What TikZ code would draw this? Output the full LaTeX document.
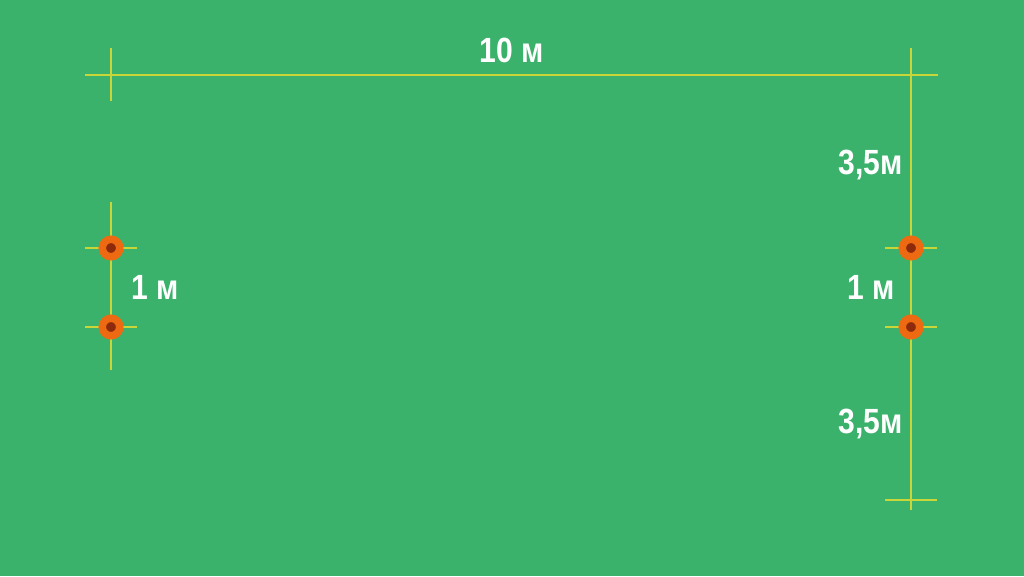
\documentclass[tikz,border=0pt]{standalone}
\usepackage{fontspec}
\setmainfont{Liberation Sans}
\usepackage{tikz}
\usetikzlibrary{positioning,calc}
\definecolor{lawn}{HTML}{3AB26B}
\definecolor{markline}{HTML}{C9D63A}
\definecolor{pegring}{HTML}{EE6A12}
\definecolor{pegcore}{HTML}{8E2A0C}
\tikzstyle{dim} = [draw=markline, line width=1.5pt]
\tikzstyle{peg} = [circle, fill=pegcore, draw=pegring, line width=7.5pt, minimum size=17.5pt, inner sep=0pt]
\tikzstyle{lbl} = [text=white, inner sep=0pt, xscale=0.86, font=\bfseries\fontsize{35}{35}\selectfont]

\begin{document}
\begin{tikzpicture}[x=1pt, y=-1pt]
    \fill[lawn] (0,0) rectangle (1024,576);
    \useasboundingbox (0,0) rectangle (1024,576);
    % dimension lines
    \coordinate (topL) at (85,75);
    \coordinate (topR) at (938,75);
    \coordinate (tickLa) at (111,48);
    \coordinate (tickLb) at (111,101);
    \coordinate (rTop) at (911,48);
    \coordinate (rBot) at (911,510);
    \coordinate (lTop) at (111,202);
    \coordinate (lBot) at (111,370);
    \coordinate (baseL) at (885,500);
    \coordinate (baseR) at (937,500);
    \draw[dim] (topL) -- (topR);
    \draw[dim] (tickLa) -- (tickLb);
    \draw[dim] (rTop) -- (rBot);
    \draw[dim] (lTop) -- (lBot);
    \draw[dim] (baseL) -- (baseR);
    \foreach \y in {248, 327}{
        \draw[dim] (85,\y) -- (137,\y);
        \draw[dim] (885,\y) -- (937,\y);
    }
    % pegs
    \node[peg] (pegLa) at (111,248) {};
    \node[peg] (pegLb) at (111,327) {};
    \node[peg] (pegRa) at (911,248) {};
    \node[peg] (pegRb) at (911,327) {};
    % labels
    \node[lbl, anchor=base] (width) at (512,62) {10 м};
    \node[lbl, anchor=base east] (upper) at (903,174) {3,5м};
    \node[lbl, anchor=base] (gapR) at (871,299) {1 м};
    \node[lbl, anchor=base] (gapL) at (155,299) {1 м};
    \node[lbl, anchor=base east] (lower) at (903,433) {3,5м};
\end{tikzpicture}
\end{document}
